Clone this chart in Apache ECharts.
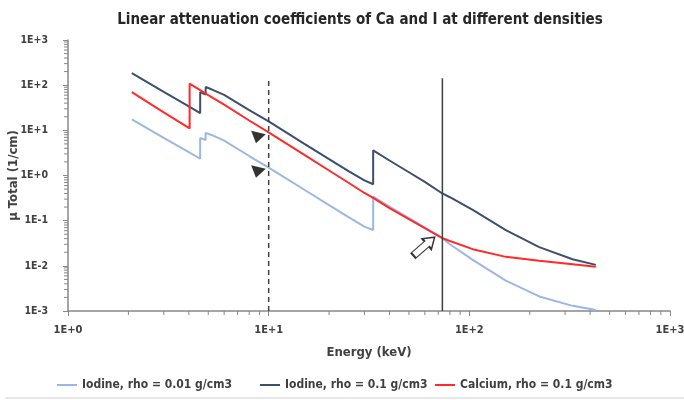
<!DOCTYPE html>
<html>
<head>
<meta charset="utf-8">
<script src="https://cdn.jsdelivr.net/npm/echarts@6/dist/echarts.min.js"></script>
<style>
  html, body { margin: 0; padding: 0; background: #fff; }
  #chart { width: 684px; height: 400px; }
</style>
</head>
<body>
<div id="chart"></div>
<script>
// energies in keV (edges repeated so the jump is vertical)
var energyIodine = [2.08, 3, 4, 4.557, 4.557, 4.852, 4.852, 5.188, 5.188, 6, 8, 10, 15, 20, 25, 30,
  33.17, 33.17, 40, 50, 60, 73.4, 80, 104, 152, 223, 327, 427];
var iodineLow = [17.5, 6.8, 3.3, 2.35, 6.8, 6.1, 8.8, 7.9, 8.6, 5.9, 2.7, 1.5, 0.49, 0.22, 0.12, 0.074,
  0.062, 0.34, 0.205, 0.114, 0.07, 0.041, 0.03, 0.0135, 0.0047, 0.0021, 0.0013, 0.00105];
var iodineHigh = [185, 71, 34, 24, 70, 62, 91, 81, 89, 61, 28, 15.8, 5.1, 2.3, 1.25, 0.78,
  0.64, 3.6, 2.15, 1.18, 0.72, 0.40, 0.33, 0.173, 0.062, 0.026, 0.014, 0.0105];

var energyCalcium = [2.08, 3, 4.038, 4.038, 5, 6, 8, 10, 15, 20, 25, 30, 33.17, 40, 50, 60, 73.4, 80,
  104, 152, 223, 327, 427];
var calcium = [70, 25, 11, 108, 60, 37, 16.5, 9.0, 2.9, 1.29, 0.69, 0.41, 0.32, 0.19, 0.108, 0.068, 0.041,
  0.0355, 0.0234, 0.0158, 0.0129, 0.0109, 0.0095];

var seriesNames = ['Iodine, rho = 0.01 g/cm3', 'Iodine, rho = 0.1 g/cm3', 'Calcium, rho = 0.1 g/cm3'];

// reference lines and annotations
var dashedLine = [[10, 0.001], [10, 143]];
var solidLine = [[73.4, 0.001], [73.4, 143]];
var trianglePoints = [[8.77, 6.8], [8.77, 1.17]];
var arrowPoint = [[59.5, 0.027]];

var FONT = "'Liberation Sans Narrow', 'DejaVu Sans Condensed', 'Liberation Sans', sans-serif";

function pairs(xs, ys) {
  return xs.map(function (x, i) { return [x, ys[i]]; });
}

function expLabel(v) {
  var e = Math.round(Math.log10(v));
  return '1E' + (e >= 0 ? '+' : '-') + Math.abs(e);
}

// minor ticks at 2..9 of every decade
var xMinor = [], yMinor = [];
for (var d = 0; d < 3; d++) for (var k = 2; k <= 9; k++) xMinor.push([k * Math.pow(10, d), 0.001]);
for (var d2 = -3; d2 < 3; d2++) for (var k2 = 2; k2 <= 9; k2++) yMinor.push([1, k2 * Math.pow(10, d2)]);

function minorTickSeries(data, horizontal) {
  return {
    type: 'custom', silent: true, clip: false, z: 3,
    data: data,
    renderItem: function (params, api) {
      var p = api.coord([api.value(0), api.value(1)]);
      var shape = horizontal
        ? { x1: p[0], y1: p[1], x2: p[0], y2: p[1] + 4 }
        : { x1: p[0] - 4, y1: p[1], x2: p[0], y2: p[1] };
      return { type: 'line', shape: shape, style: { stroke: '#888', lineWidth: 1 } };
    }
  };
}

// one legend per entry so each can sit where the original puts it
var legendLefts = [52, 255, 430];
var legends = seriesNames.map(function (name, i) {
  return {
    data: [name], bottom: 4, left: legendLefts[i],
    icon: 'rect', itemWidth: 20, itemHeight: 2,
    textStyle: { fontFamily: FONT, fontSize: 12, fontWeight: 'bold', color: '#404040' }
  };
});

var chart = echarts.init(document.getElementById('chart'));

var option = {
  animation: false,
  textStyle: { fontFamily: FONT },
  title: {
    text: 'Linear attenuation coefficients of Ca and I at different densities',
    left: 355, top: 8, textAlign: 'center',
    textStyle: { fontFamily: FONT, fontSize: 15, fontWeight: 'bold', color: '#262626' }
  },
  grid: { left: 68, right: 14, top: 40, bottom: 89, containLabel: false, outerBoundsMode: 'none' },
  legend: legends,
  xAxis: {
    type: 'log', logBase: 10, min: 1, max: 1000,
    name: 'Energy (keV)', nameLocation: 'middle', nameGap: 35, nameMoveOverlap: false,
    nameTextStyle: { fontFamily: FONT, fontSize: 13, fontWeight: 'bold', color: '#404040' },
    axisLine: { lineStyle: { color: '#888', width: 1.5 } },
    axisTick: { show: true, length: 5, lineStyle: { color: '#888' } },
    axisLabel: { formatter: expLabel, margin: 14, fontFamily: FONT, fontSize: 11, fontWeight: 'bold', color: '#404040' },
    splitLine: { show: false }
  },
  yAxis: {
    type: 'log', logBase: 10, min: 0.001, max: 1000,
    name: 'µ Total (1/cm)', nameLocation: 'middle', nameGap: 48, nameRotate: 90, nameMoveOverlap: false,
    nameTextStyle: { fontFamily: FONT, fontSize: 13, fontWeight: 'bold', color: '#404040' },
    axisLine: { show: true, lineStyle: { color: '#888', width: 1.5 } },
    axisTick: { show: true, length: 5, lineStyle: { color: '#888' } },
    axisLabel: { formatter: expLabel, margin: 20, fontFamily: FONT, fontSize: 10.5, fontWeight: 'bold', color: '#404040' },
    splitLine: { show: false }
  },
  series: [
    {
      name: seriesNames[0], type: 'line', showSymbol: false, z: 4,
      data: pairs(energyIodine, iodineLow),
      lineStyle: { color: '#9DB7E4', width: 2 }, itemStyle: { color: '#9DB7E4' }
    },
    {
      name: seriesNames[1], type: 'line', showSymbol: false, z: 4,
      data: pairs(energyIodine, iodineHigh),
      lineStyle: { color: '#3D4F6F', width: 2 }, itemStyle: { color: '#3D4F6F' }
    },
    {
      name: seriesNames[2], type: 'line', showSymbol: false, z: 5,
      data: pairs(energyCalcium, calcium),
      lineStyle: { color: '#FF2A2A', width: 2 }, itemStyle: { color: '#FF2A2A' }
    },
    {
      type: 'line', showSymbol: false, silent: true, z: 6, data: dashedLine,
      lineStyle: { color: '#404040', width: 1.5, type: [5, 4] }
    },
    {
      type: 'line', showSymbol: false, silent: true, z: 6, data: solidLine,
      lineStyle: { color: '#404040', width: 1.5 }
    },
    {
      type: 'scatter', silent: true, z: 7, data: trianglePoints,
      symbol: 'triangle', symbolSize: [15, 11], symbolRotate: 167,
      itemStyle: { color: '#000' }
    },
    {
      type: 'scatter', silent: true, z: 7, data: arrowPoint,
      symbol: 'path://M6,0 L12,10 L9,10 L9,27 L3,27 L3,10 L0,10 Z',
      symbolSize: [14, 28], symbolRotate: -49,
      itemStyle: { color: '#fff', borderColor: '#000', borderWidth: 1.5 }
    },
    minorTickSeries(xMinor, true),
    minorTickSeries(yMinor, false)
  ],
  graphic: [
    { type: 'line', shape: { x1: 5, y1: 398, x2: 684, y2: 398 }, style: { stroke: '#d0d0d0', lineWidth: 1 } }
  ]
};

chart.setOption(option);
</script>
</body>
</html>
